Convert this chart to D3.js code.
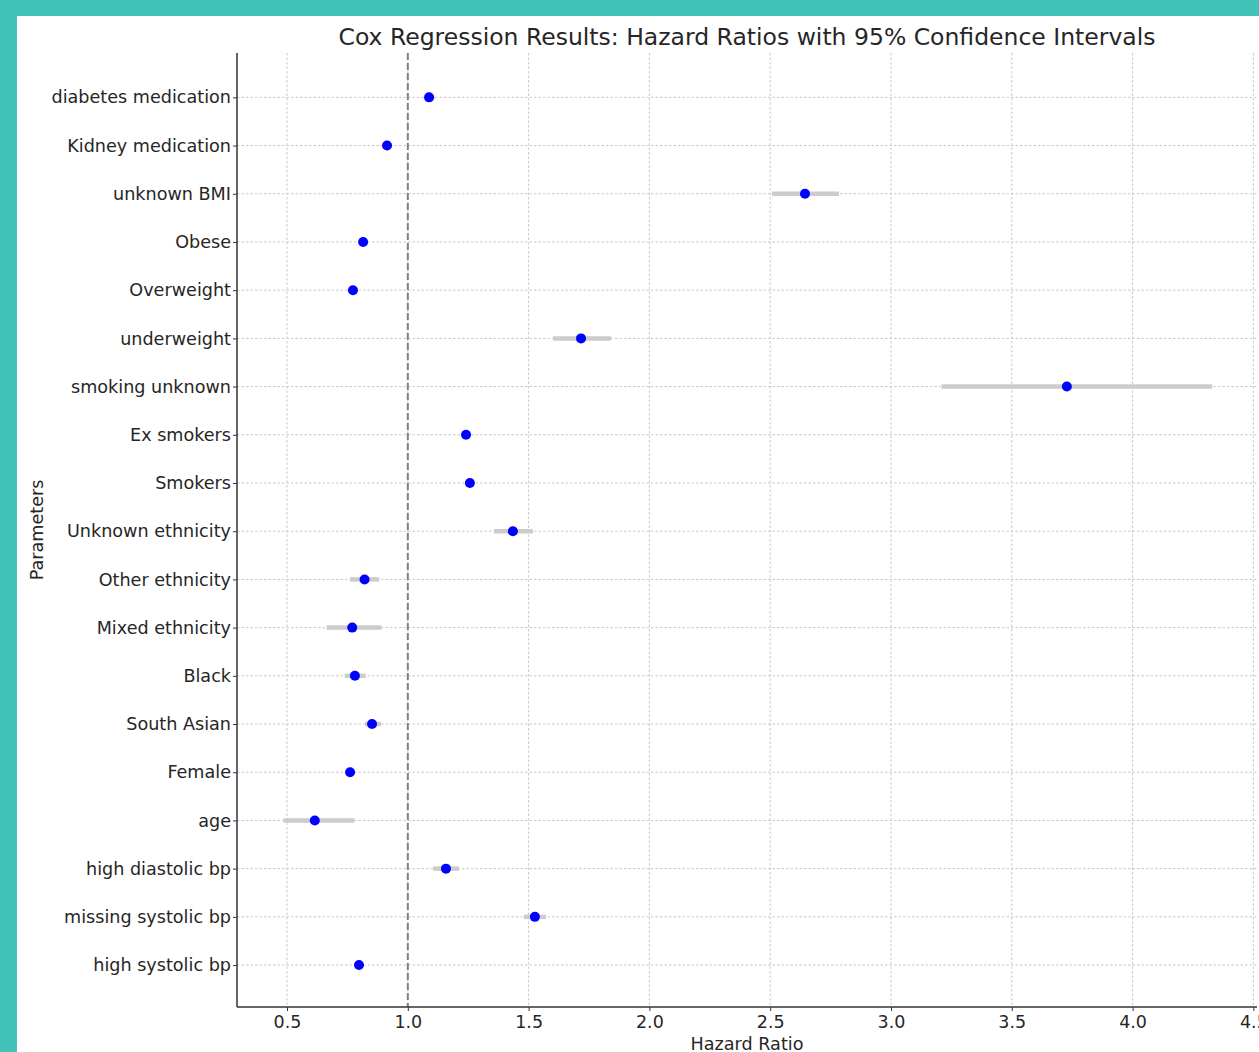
<!DOCTYPE html>
<meta charset="utf-8">
<style>
body {margin: 0; background: #43c2b9;}
text {font-family: "DejaVu Sans", sans-serif; fill: #262626;}
.grid line {stroke: #c8c8c8; stroke-dasharray: 2.5,2; stroke-width: 1;}
</style>
<body>
<script src="https://d3js.org/d3.v7.min.js"></script>
<div id="chart"></div>
</body>
<script>
// parameters, top to bottom as drawn
var params = ["diabetes medication", "Kidney medication", "unknown BMI", "Obese", "Overweight",
  "underweight", "smoking unknown", "Ex smokers", "Smokers", "Unknown ethnicity",
  "Other ethnicity", "Mixed ethnicity", "Black", "South Asian", "Female", "age",
  "high diastolic bp", "missing systolic bp", "high systolic bp"];
var hr   = [1.088, 0.914, 2.644, 0.815, 0.773, 1.717, 3.728, 1.241, 1.257, 1.435,
  0.821, 0.770, 0.781, 0.852, 0.761, 0.615, 1.158, 1.526, 0.798];
var ciLo = [1.07, 0.90, 2.507, 0.80, 0.76, 1.601, 3.21, 1.23, 1.245, 1.357,
  0.761, 0.664, 0.739, 0.823, 0.75, 0.485, 1.105, 1.481, 0.78];
var ciHi = [1.11, 0.93, 2.785, 0.83, 0.79, 1.841, 4.33, 1.255, 1.27, 1.518,
  0.882, 0.891, 0.826, 0.889, 0.775, 0.779, 1.212, 1.572, 0.815];
var xTicks = [0.5, 1.0, 1.5, 2.0, 2.5, 3.0, 3.5, 4.0, 4.5];

var W = 1259, H = 1052;
var mLeft = 237, mRight = 1257, mTop = 53, mBottom = 1007;

var svg = d3.select("#chart").append("svg")
    .attr("width", W).attr("height", H)
    .style("display", "block");

// white panel
svg.append("rect").attr("x", 17).attr("y", 16)
    .attr("width", W - 17).attr("height", H - 16).attr("fill", "#fff");

var x = d3.scaleLinear().domain([0.293, 4.515]).range([mLeft, mRight]);
var n = params.length;
var y = d3.scaleLinear().domain([-0.87, n - 1 + 0.92]).range([mBottom, mTop]);
function yPos(i) { return y(n - 1 - i); }

var plot = svg.append("g");

// grid
var grid = plot.append("g").attr("class", "grid");
grid.selectAll(".gx").data(xTicks).enter().append("line")
    .attr("x1", function(d) { return x(d); }).attr("x2", function(d) { return x(d); })
    .attr("y1", mTop).attr("y2", mBottom);
grid.selectAll(".gy").data(params).enter().append("line")
    .attr("x1", mLeft).attr("x2", mRight)
    .attr("y1", function(d, i) { return yPos(i); })
    .attr("y2", function(d, i) { return yPos(i); });

// reference line at HR = 1
plot.append("line")
    .attr("x1", x(1)).attr("x2", x(1)).attr("y1", mTop).attr("y2", mBottom)
    .attr("stroke", "#808080").attr("stroke-width", 2).attr("stroke-dasharray", "7,3");

// confidence intervals
plot.selectAll(".ci").data(params).enter().append("line")
    .attr("x1", function(d, i) { return x(ciLo[i]); })
    .attr("x2", function(d, i) { return x(ciHi[i]); })
    .attr("y1", function(d, i) { return yPos(i); })
    .attr("y2", function(d, i) { return yPos(i); })
    .attr("stroke", "#cccccc").attr("stroke-width", 4.5);

// points
plot.selectAll(".pt").data(params).enter().append("circle")
    .attr("cx", function(d, i) { return x(hr[i]); })
    .attr("cy", function(d, i) { return yPos(i); })
    .attr("r", 5).attr("fill", "#0000ff");

// axes
var xAxis = d3.axisBottom(x).tickValues(xTicks).tickFormat(d3.format(".1f"))
    .tickSize(4).tickPadding(5);
var gx = svg.append("g").attr("transform", "translate(0," + mBottom + ")").call(xAxis);
gx.select(".domain").attr("d", "M" + mLeft + ",0H" + mRight).attr("stroke", "#333").attr("stroke-width", 1.5);
gx.selectAll(".tick line").attr("stroke", "#333");
gx.selectAll("text").style("font-size", "17.5px").style("font-family", "DejaVu Sans").attr("fill", "#262626");

var yAxis = d3.axisLeft(y)
    .tickValues(d3.range(n)).tickFormat(function(d) { return params[n - 1 - d]; })
    .tickSize(4).tickPadding(2);
var gy = svg.append("g").attr("transform", "translate(" + mLeft + ",0)").call(yAxis);
gy.select(".domain").attr("d", "M0," + mTop + "V" + mBottom).attr("stroke", "#333").attr("stroke-width", 1.5);
gy.selectAll(".tick line").attr("stroke", "#333");
gy.selectAll("text").style("font-size", "17.6px").style("font-family", "DejaVu Sans").attr("fill", "#262626");

// title and labels
svg.append("text").attr("x", (mLeft + mRight) / 2).attr("y", 45)
    .attr("text-anchor", "middle").style("font-size", "23.5px").attr("fill", "#333")
    .text("Cox Regression Results: Hazard Ratios with 95% Confidence Intervals");
svg.append("text").attr("x", (mLeft + mRight) / 2).attr("y", 1050)
    .attr("text-anchor", "middle").style("font-size", "17.6px").text("Hazard Ratio");
svg.append("text").attr("transform", "translate(43," + (mTop + mBottom) / 2 + ") rotate(-90)")
    .attr("text-anchor", "middle").style("font-size", "17.6px").text("Parameters");
</script>
